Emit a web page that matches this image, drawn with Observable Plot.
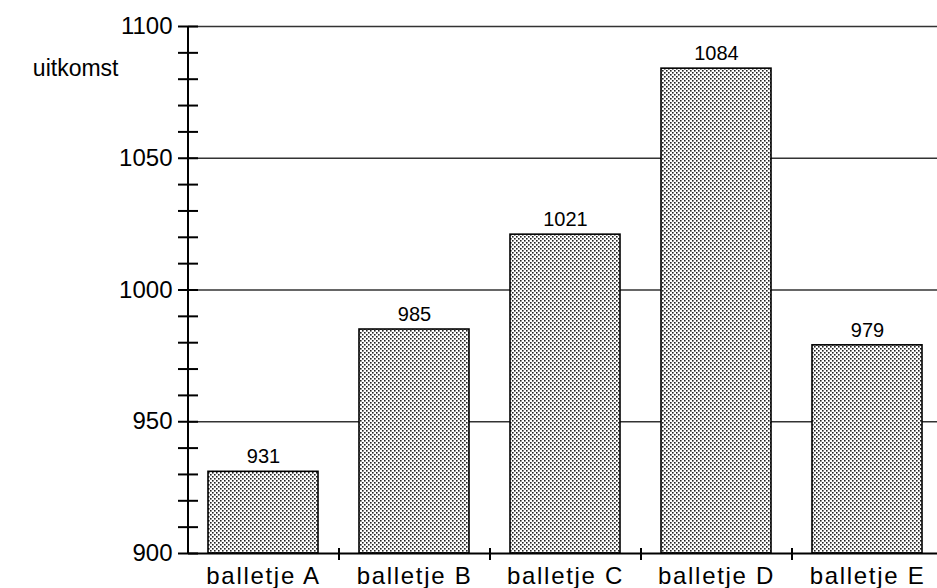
<!DOCTYPE html>
<html>
<head>
<meta charset="utf-8">
<script src="https://cdn.jsdelivr.net/npm/d3@7"></script>
<script src="https://cdn.jsdelivr.net/npm/@observablehq/plot@0.6"></script>
<style>
  html, body { margin: 0; padding: 0; background: #fff; }
  #chart svg { display: block; }
  #chart g[aria-label="x-axis tick label"] text { letter-spacing: 1.7px; }
</style>
</head>
<body>
<div id="chart"></div>
<script>
const categories = ["balletje A", "balletje B", "balletje C", "balletje D", "balletje E"];
const values = [931, 985, 1021, 1084, 979];
const yMajorTicks = [900, 950, 1000, 1050, 1100];
const yMinorTicks = [900, 910, 920, 930, 940, 950, 960, 970, 980, 990, 1000, 1010, 1020, 1030, 1040, 1050, 1060, 1070, 1080, 1090, 1100];
const gridValues = [950, 1000, 1050, 1100];
const yLabel = "uitkomst";
const yBase = 900;
const yTop = 1100;

const data = categories.map((c, i) => ({cat: c, value: values[i]}));

const xRange = [188, 943];
const step = (xRange[1] - xRange[0]) / categories.length;
const font = "'Liberation Sans', Arial, Helvetica, sans-serif";

const plot = Plot.plot({
  width: 937,
  height: 588,
  marginLeft: 188,
  marginRight: 0,
  marginTop: 26,
  marginBottom: 35,
  style: {fontFamily: font, background: "#fff", color: "#000", overflow: "visible"},
  x: {domain: categories, range: xRange, paddingInner: 0.27, paddingOuter: 0.135},
  y: {domain: [900, 1100], range: [553, 26]},
  marks: [
    Plot.ruleY(gridValues, {stroke: "#333", strokeWidth: 1.3}),
    Plot.barY(data, {x: "cat", y1: () => yBase, y2: "value", fill: "url(#stip)", stroke: "#000", strokeWidth: 1.6}),
    Plot.text(data, {x: "cat", y: "value", text: d => String(d.value), dy: -15, fontSize: 20, fill: "#000", lineAnchor: "middle"}),
    Plot.ruleY([yBase], {stroke: "#000", strokeWidth: 2}),
    // vertical axis line at the left edge of the first band
    Plot.ruleX([categories[0]], {x: d => d, y1: () => yBase, y2: () => yTop, dx: -step / 2, stroke: "#000", strokeWidth: 2}),
    // category boundary ticks on the x axis
    Plot.ruleX(categories.slice(1), {x: d => d, y1: () => yBase, y2: () => yBase, insetTop: -5, insetBottom: -7, dx: -step / 2, stroke: "#000", strokeWidth: 2}),
    Plot.axisY({ticks: yMinorTicks, tickSize: 20, dx: 10, text: null, strokeWidth: 2, label: null}),
    Plot.axisY({ticks: yMajorTicks, tickSize: 0, tickPadding: 16, fontSize: 24, label: null, tickFormat: d => String(d)}),
    Plot.axisX({tickSize: 0, tickPadding: 13, fontSize: 24, label: null}),
    Plot.text([yLabel], {frameAnchor: "top-left", textAnchor: "end", lineAnchor: "middle", dx: -70, dy: 42, fontSize: 23, fill: "#000"})
  ]
});

const ns = "http://www.w3.org/2000/svg";
const defs = document.createElementNS(ns, "defs");
defs.innerHTML = `<pattern id="stip" patternUnits="userSpaceOnUse" width="4" height="4">
  <rect width="4" height="4" fill="#fff"/>
  <rect x="0" y="0" width="1.6" height="1.6" fill="#222"/>
  <rect x="2" y="2" width="1.6" height="1.6" fill="#222"/>
</pattern>`;
plot.insertBefore(defs, plot.firstChild);

document.getElementById("chart").appendChild(plot);
</script>
</body>
</html>
